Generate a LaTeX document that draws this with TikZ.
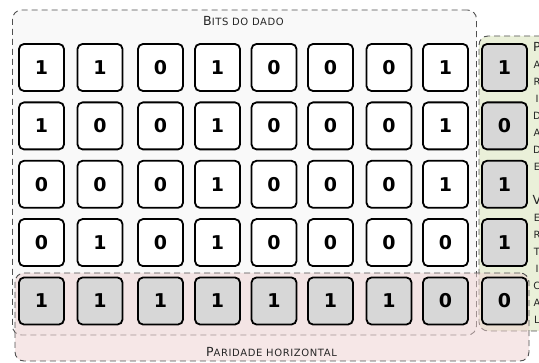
\documentclass[tikz,border=0pt]{standalone}
\usepackage{fontspec}
\setmainfont{DejaVu Sans}
\newfontfamily\labfont[LetterSpace=6]{DejaVu Sans}
\definecolor{dashgrey}{HTML}{505050}
\definecolor{bitsbg}{HTML}{F9F9F9}
\definecolor{cellgrey}{HTML}{D7D7D7}
\definecolor{greenbg}{HTML}{EAF0D9}
\definecolor{pinkbg}{HTML}{EFD1D1}
\newcommand{\bigc}[1]{{\fontsize{12.5}{12.5}\selectfont #1}}
\newcommand{\smc}[1]{{\fontsize{10}{10}\selectfont #1}}
\begin{document}
\begin{tikzpicture}[x=1pt,y=-1pt,
  cell/.style={draw=black, line width=1.8pt, rounded corners=5pt, minimum width=45pt, minimum height=47pt, inner sep=0pt, font=\fontsize{19}{19}\selectfont\bfseries, fill=white},
  pcell/.style={cell, fill=cellgrey},
  grp/.style={draw=dashgrey, dash pattern=on 6pt off 4pt, line width=0.9pt, rounded corners=9pt, inner sep=0pt},
  lab/.style={text=black!85, inner sep=0pt, font=\labfont}]
\useasboundingbox (0,0) rectangle (539,363);
\clip (0,0) rectangle (539,363);
\fill[white] (0,0) rectangle (539,363);
% group boxes
\node[grp, fill=bitsbg, minimum width=464pt, minimum height=325pt] (bits) at (244.5,172.5) {};
\node[grp, fill=greenbg, minimum width=100pt, minimum height=295pt] (vert) at (529,183.5) {};
\node[grp, fill=pinkbg, fill opacity=0.5, draw opacity=1, minimum width=514pt, minimum height=88pt] (horiz) at (272,317) {};
% labels
\node[lab] (bitslab) at (243.5,21) {\bigc{B}\smc{ITS DO DADO}};
\node[lab] (horizlab) at (271.5,352) {\bigc{P}\smc{ARIDADE HORIZONTAL}};
\node[lab, align=center, anchor=west, font=\labfont\fontsize{10}{17}\selectfont] (vertlab) at (532.5,183) {\bigc{P}\\A\\R\\I\\D\\A\\D\\E\\[17pt]\bigc{V}\\E\\R\\T\\I\\C\\A\\L};
% cells
\def\colsx{{41.5,100,160.5,217.5,274,330.5,389,445.5,504.5}}
\def\rowsy{{67.5,125.9,184.3,242.6,301}}
\foreach \r/\bits in {0/{1,1,0,1,0,0,0,1,1},1/{1,0,0,1,0,0,0,1,0},2/{0,0,0,1,0,0,0,1,1},3/{0,1,0,1,0,0,0,0,1},4/{1,1,1,1,1,1,1,0,0}}{
  \foreach \b [count=\c from 0] in \bits {
    \pgfmathsetmacro{\cx}{\colsx[\c]}
    \pgfmathsetmacro{\cy}{\rowsy[\r]}
    \ifnum\r=4 \def\st{pcell}\else\ifnum\c=8 \def\st{pcell}\else\def\st{cell}\fi\fi
    \node[\st] (c-\r-\c) at (\cx,\cy) {\b};
  }
}
\end{tikzpicture}
\end{document}
